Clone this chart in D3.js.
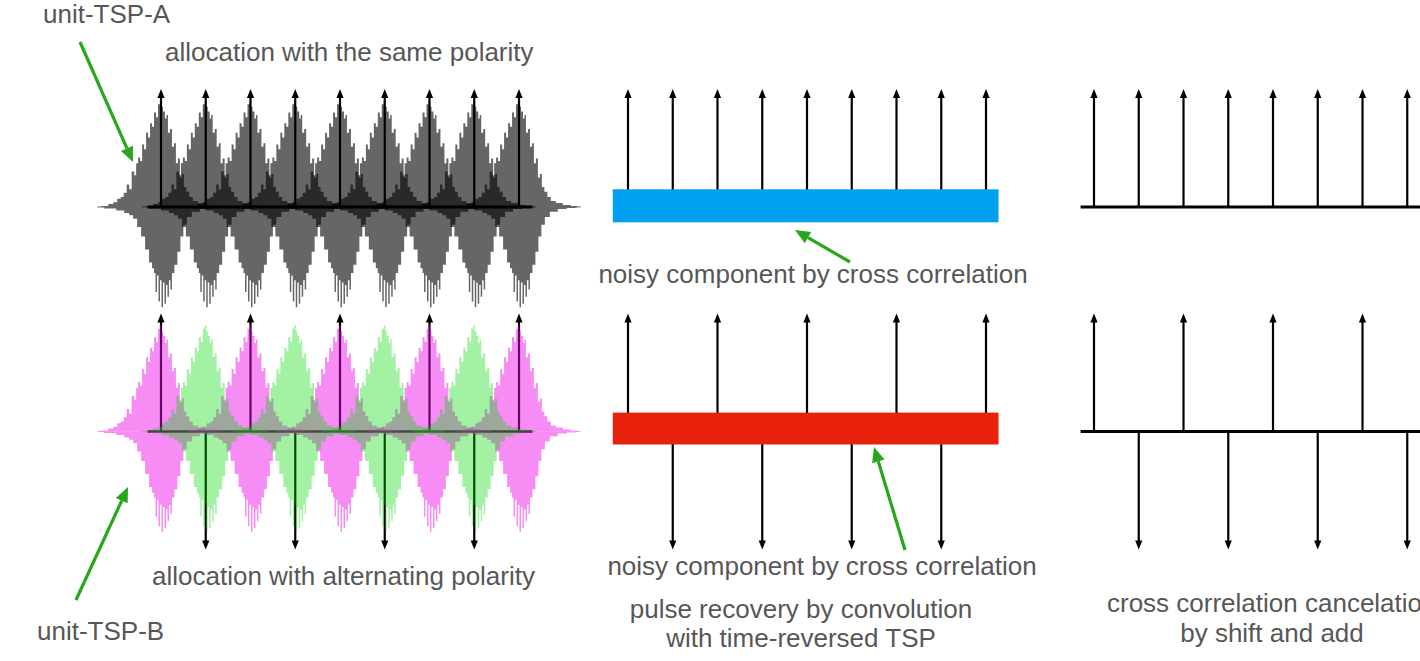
<!DOCTYPE html>
<html>
<head>
<meta charset="utf-8">
<script src="https://cdn.jsdelivr.net/npm/d3@7"></script>
<style>
  html, body { margin: 0; padding: 0; background: #fff; overflow: hidden; }
  svg { display: block; }
  text { font-family: "Liberation Sans", Arial, Helvetica, sans-serif; font-size: 26px; fill: #575757; }
</style>
</head>
<body>
<svg id="fig" width="1420" height="661"></svg>
<script>
// ---- data -------------------------------------------------------------
// pulse slots (one unit-TSP per slot), 45 samples between neighbouring slots
const slots = [0, 1, 2, 3, 4, 5, 6, 7, 8];
const samplesPerSlot = 45;
// pulse polarity per slot
const polaritySame = [1, 1, 1, 1, 1, 1, 1, 1, 1];
const polarityAlt  = [1, -1, 1, -1, 1, -1, 1, -1, 1];

// envelope of one unit-TSP burst: offset from its pulse (samples), level in % of pulse height
const upperOffsets = [-64, -56, -50, -46, -42, -39, -36, -33, -31, -28, -26, -24, -22, -20, -18, -16, -14, -12, -10, -8, -6, -4, -2, 0, 1, 3, 5, 6, 8, 10, 12, 14, 16, 18, 20, 22, 24, 27, 30, 34, 40, 48, 56, 62];
const upperLevels  = [0.5, 0.8, 2.5, 4, 7, 8.5, 12, 19, 15, 30, 27, 37, 42, 39, 53, 49, 63, 59, 71, 68, 80, 76, 87, 90, 85, 81, 75, 78, 63, 66, 51, 54, 37, 41, 25, 28, 17, 13, 8.5, 5, 3.4, 1.7, 0.8, 0.5];
const lowerOffsets = [-64, -50, -40, -34, -30, -26, -22, -18, -14, -10, -8, -6, -5, -3, -2, 0, 1, 3, 4, 6, 7, 9, 10, 12, 15, 18, 21, 24, 28, 34, 44, 52, 62];
const lowerLevels  = [0.5, 1.3, 3, 5, 7, 10, 17, 25, 36, 47, 52, 56, 72, 58, 80, 62, 85, 64, 82, 66, 76, 62, 70, 56, 49, 38, 25, 15, 8.5, 4, 1.7, 0.8, 0.5];

// residual cross-correlation bands, % of pulse height
const bandSame = [-13, 15];
const bandAlt  = [-11, 16];
// extents, in slots
const axisSpan = [-0.3, 8.6];
const axisSpanLeft = [-0.3, 8.3];
const bandSpan = [-0.34, 8.28];

// ---- layout -------------------------------------------------------------
const svg = d3.select("#fig");
const slotPx = 44.75;
const colX = [161, 628, 1094];         // pixel position of slot 0 in each column
const rowBase = [207, 431.5];          // zero line of each row
const pulsePx = 118;                   // pixel height of a full pulse
const headLen = 9, headHalf = 3.6;

function xScale(col) {
  return d3.scaleLinear().domain([0, 8 * samplesPerSlot]).range([colX[col], colX[col] + 8 * slotPx]);
}
function yScale(row) {
  return d3.scaleLinear().domain([-100, 100]).range([rowBase[row] + pulsePx, rowBase[row] - pulsePx]);
}

function drawAxis(g, x, y, span, width) {
  g.append("line")
    .attr("x1", x(span[0] * samplesPerSlot)).attr("x2", x(span[1] * samplesPerSlot))
    .attr("y1", y(0)).attr("y2", y(0))
    .attr("stroke", "#000").attr("stroke-width", width);
}

function drawPulses(g, x, y, pol) {
  const data = slots.map((s, i) => ({ s, p: pol[i] }));
  const sel = g.selectAll(null).data(data).enter().append("g");
  sel.append("line")
    .attr("x1", d => x(d.s * samplesPerSlot)).attr("x2", d => x(d.s * samplesPerSlot))
    .attr("y1", y(0))
    .attr("y2", d => y(d.p * 100) + d.p * (headLen - 1))
    .attr("stroke", "#000").attr("stroke-width", 2.2);
  sel.append("path")
    .attr("d", d => {
      const cx = x(d.s * samplesPerSlot), ty = y(d.p * 100), by = ty + d.p * headLen;
      return `M${cx},${ty}L${cx - headHalf},${by}L${cx + headHalf},${by}Z`;
    })
    .attr("fill", "#000");
}

function drawBursts(g, x, y, which, fill, opacity) {
  const up = d3.area().curve(d3.curveStep)
    .x(d => x(d.s)).y0(y(0)).y1(d => y(d.v));
  const lo = d3.area().curve(d3.curveStep)
    .x(d => x(d.s)).y0(y(0)).y1(d => y(-d.v));
  which.forEach(slot => {
    const c = slot * samplesPerSlot;
    const u = upperOffsets.map((o, i) => ({ s: c + o, v: upperLevels[i] }));
    const l = lowerOffsets.map((o, i) => ({ s: c + o, v: lowerLevels[i] }));
    g.append("path").attr("d", up(u)).attr("fill", fill).attr("fill-opacity", opacity);
    g.append("path").attr("d", lo(l)).attr("fill", fill).attr("fill-opacity", opacity);
  });
}

function drawBand(g, x, y, band, fill) {
  g.append("rect")
    .attr("x", x(bandSpan[0] * samplesPerSlot))
    .attr("width", x(bandSpan[1] * samplesPerSlot) - x(bandSpan[0] * samplesPerSlot))
    .attr("y", y(band[1]))
    .attr("height", y(band[0]) - y(band[1]))
    .attr("fill", fill);
}

function annotArrow(x1, y1, x2, y2) {
  const ang = Math.atan2(y2 - y1, x2 - x1);
  const L = 15, W = 6.5;
  const bx = x2 - L * Math.cos(ang), by = y2 - L * Math.sin(ang);
  svg.append("line").attr("x1", x1).attr("y1", y1).attr("x2", bx).attr("y2", by)
    .attr("stroke", "#28a61c").attr("stroke-width", 3.2);
  svg.append("path")
    .attr("d", `M${x2},${y2}L${bx + W * Math.sin(ang)},${by - W * Math.cos(ang)}L${bx - W * Math.sin(ang)},${by + W * Math.cos(ang)}Z`)
    .attr("fill", "#28a61c");
}

// ---- column 1: unit-TSP allocations ----------------------------------------
{
  const x = xScale(0);
  let y = yScale(0);
  let g = svg.append("g");
  drawAxis(g, x, y, axisSpanLeft, 3);
  drawPulses(g, x, y, polaritySame);
  drawBursts(g, x, y, slots, "#000", 0.6);

  y = yScale(1);
  g = svg.append("g");
  drawAxis(g, x, y, axisSpanLeft, 2.5);
  drawPulses(g, x, y, polarityAlt);
  drawBursts(g, x, y, slots.filter((s, i) => polarityAlt[i] > 0), "#f000e8", 0.45);
  drawBursts(g, x, y, slots.filter((s, i) => polarityAlt[i] < 0), "#00d800", 0.36);
}

// ---- column 2: pulse recovery with cross-correlation noise ---------------
{
  const x = xScale(1);
  let y = yScale(0);
  let g = svg.append("g");
  drawPulses(g, x, y, polaritySame);
  drawBand(g, x, y, bandSame, "#00a0f0");

  y = yScale(1);
  g = svg.append("g");
  drawPulses(g, x, y, polarityAlt);
  drawBand(g, x, y, bandAlt, "#e8210c");
}

// ---- column 3: after shift and add -------------------------------------
{
  const x = xScale(2);
  let y = yScale(0);
  let g = svg.append("g");
  drawAxis(g, x, y, axisSpan, 3);
  drawPulses(g, x, y, polaritySame);

  y = yScale(1);
  g = svg.append("g");
  drawAxis(g, x, y, axisSpan, 3);
  drawPulses(g, x, y, polarityAlt);
}

// ---- annotations ---------------------------------------------------------
annotArrow(80, 42, 133, 162);
annotArrow(76, 600, 128, 487);
annotArrow(850, 262, 795, 230);
annotArrow(905, 550, 874, 447);

const labels = [
  { t: "unit-TSP-A", x: 43, y: 23, a: "start" },
  { t: "allocation with the same polarity", x: 165, y: 61, a: "start" },
  { t: "noisy component by cross correlation", x: 813, y: 283, a: "middle" },
  { t: "noisy component by cross correlation", x: 822, y: 575, a: "middle" },
  { t: "allocation with alternating polarity", x: 152, y: 585, a: "start" },
  { t: "unit-TSP-B", x: 37, y: 640, a: "start" },
  { t: "pulse recovery by convolution", x: 801, y: 618, a: "middle" },
  { t: "with time-reversed TSP", x: 801, y: 647, a: "middle" },
  { t: "cross correlation cancelation", x: 1107, y: 612, a: "start" },
  { t: "by shift and add", x: 1272, y: 642, a: "middle" }
];
svg.append("g").selectAll("text").data(labels).enter().append("text")
  .attr("x", d => d.x).attr("y", d => d.y)
  .attr("text-anchor", d => d.a)
  .text(d => d.t);
</script>
</body>
</html>
